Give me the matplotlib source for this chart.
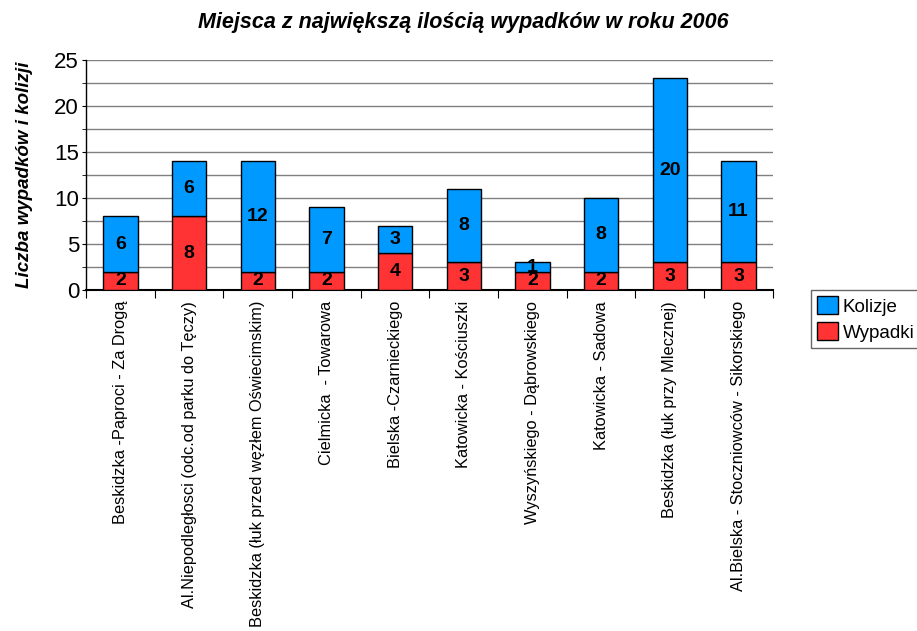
"""
Miejsca z największą ilością wypadków - stacked bar chart
"""

import matplotlib
matplotlib.use("Agg")
import matplotlib.pyplot as plt
import numpy as np

plt.rcParams['font.family'] = ['Liberation Sans', 'DejaVu Sans']

PLACES = [
    "Beskidzka -Paproci - Za Drogą",
    "Al.Niepodległosci (odc.od parku do Tęczy)",
    "Beskidzka (łuk przed węzłem Oświecimskim)",
    "Cielmicka  - Towarowa",
    "Bielska -Czarnieckiego",
    "Katowicka - Kościuszki",
    "Wyszyńskiego - Dąbrowskiego",
    "Katowicka - Sadowa",
    "Beskidzka (łuk przy Mlecznej)",
    "Al.Bielska - Stoczniowców - Sikorskiego",
]
WYPADKI = [2, 8, 2, 2, 4, 3, 2, 2, 3, 3]
KOLIZJE = [6, 6, 12, 7, 3, 8, 1, 8, 20, 11]

BLUE = '#0099ff'
RED = '#ff3333'
BAR_WIDTH = 0.5

fig = plt.figure(figsize=(9.17, 6.31), dpi=100)
ax = fig.add_axes([0.0938, 0.5404, 0.749, 0.3645])

x = np.arange(len(PLACES))
bars_w = ax.bar(x, WYPADKI, BAR_WIDTH, color=RED, edgecolor='black',
                linewidth=1, label='Wypadki', zorder=3)
bars_k = ax.bar(x, KOLIZJE, BAR_WIDTH, bottom=WYPADKI, color=BLUE,
                edgecolor='black', linewidth=1, label='Kolizje', zorder=3)

# value labels in the middle of each segment
for i in range(len(PLACES)):
    ax.text(x[i], WYPADKI[i] / 2, str(WYPADKI[i]), ha='center', va='center',
            fontsize=14, fontweight='bold', zorder=4)
    ax.text(x[i], WYPADKI[i] + KOLIZJE[i] / 2, str(KOLIZJE[i]), ha='center',
            va='center', fontsize=14, fontweight='bold', zorder=4)

ax.set_xlim(-0.5, len(PLACES) - 0.5)
ax.set_ylim(0, 25)
ax.set_yticks([0, 5, 10, 15, 20, 25])
ax.set_yticks(np.arange(0, 25.1, 2.5), minor=True)
ax.grid(which='both', axis='y', color='#808080', linewidth=1, zorder=0)
ax.tick_params(axis='y', which='major', labelsize=16, length=3, pad=2)
ax.tick_params(axis='y', which='minor', length=3)

# x ticks on category boundaries, labels centered on bars
ax.set_xticks(np.arange(-0.5, len(PLACES) + 0.5, 1))
ax.set_xticklabels([])
ax.set_xticks(x, minor=True)
ax.set_xticklabels(PLACES, minor=True, rotation=90, ha='center', va='top',
                   fontsize=11.8)
ax.tick_params(axis='x', which='major', length=6, color='black')
ax.tick_params(axis='x', which='minor', length=0, pad=8)

for side in ['top', 'right']:
    ax.spines[side].set_visible(False)
ax.spines['bottom'].set_linewidth(1.5)
ax.spines['left'].set_linewidth(1)

ax.set_ylabel("Liczba wypadków i kolizji", fontsize=13.5, fontweight='bold',
              fontstyle='italic', labelpad=15)

fig.text(0.505, 0.965, "Miejsca z największą ilością wypadków w roku 2006",
         ha='center', va='center', fontsize=15.5, fontweight='bold',
         fontstyle='italic')

legend = fig.legend(handles=[bars_k, bars_w], labels=['Kolizje', 'Wypadki'],
                    loc='upper left', bbox_to_anchor=(0.884, 0.541),
                    fontsize=13.5, frameon=True, fancybox=False,
                    handlelength=1.1, handleheight=1.1, handletextpad=0.25,
                    borderpad=0.35, labelspacing=0.35, borderaxespad=0)
legend.get_frame().set_edgecolor('#404040')
legend.get_frame().set_linewidth(1)

fig.savefig("out.png", dpi=100)
plt.close(fig)
